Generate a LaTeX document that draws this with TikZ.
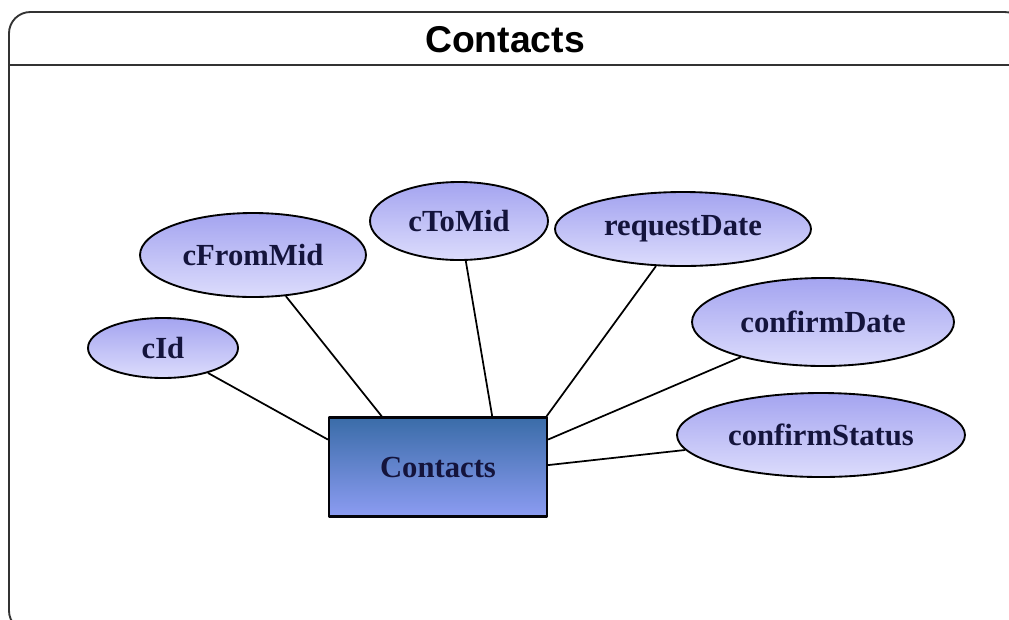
\documentclass[tikz,border=0pt]{standalone}
\usepackage{fontspec}
\setmainfont{Liberation Serif}
\newfontfamily\titlefont{Liberation Sans}
\usetikzlibrary{shapes.geometric}
\definecolor{attrtop}{HTML}{A4A4F0}
\definecolor{attrbot}{HTML}{DCDCFC}
\definecolor{enttop}{HTML}{3A6CA8}
\definecolor{entbot}{HTML}{8C9CF2}
\definecolor{navy}{HTML}{14143C}
\begin{document}
\begin{tikzpicture}[x=0.75pt,y=-0.75pt,line join=round,
    attr/.style={ellipse,draw=black,line width=1.4pt,inner sep=0pt,
        top color=attrtop,bottom color=attrbot,text=navy,
        font=\fontsize{23}{26}\selectfont\bfseries},
    entity/.style={rectangle,draw=black!85!navy,line width=1.6pt,inner sep=0pt,
        top color=enttop,bottom color=entbot,text=navy,
        minimum width=163.5pt,minimum height=74.25pt,
        font=\fontsize{23}{26}\selectfont\bfseries},
    link/.style={line width=1.3pt,draw=black}]
    \useasboundingbox (0,0) rectangle (1009,619);
    \clip (0,0) rectangle (1009,619);
    % frame with title bar
    \draw[line width=1.4pt,draw=black!80,rounded corners=16pt] (9,12) rectangle (1026,632);
    \draw[line width=1.4pt,draw=black!80] (9,65)--(1026,65);
    \node (title) at (505,40) {\titlefont\fontsize{28}{32}\selectfont\bfseries Contacts};
    % entity
    \node[entity] (ent) at (438,467) {Contacts};
    % attributes: name/x/y/width/height
    \foreach \n/\x/\y/\w/\h in {cId/163/348/112.5/45,
                                cFromMid/253/255/169.5/63,
                                cToMid/459/221/133.5/58.5,
                                requestDate/683/229/192/55.5,
                                confirmDate/823/322/196.5/66,
                                confirmStatus/821/435/216/63}
        \node[attr,minimum width=\w pt,minimum height=\h pt] (\n) at (\x,\y) {\n};
    % links to the entity
    \foreach \n/\a in {cId/166,cFromMid/138,cToMid/43,requestDate/25,confirmDate/14,confirmStatus/1}
        \draw[link] (\n) -- (ent.\a);
\end{tikzpicture}
\end{document}
